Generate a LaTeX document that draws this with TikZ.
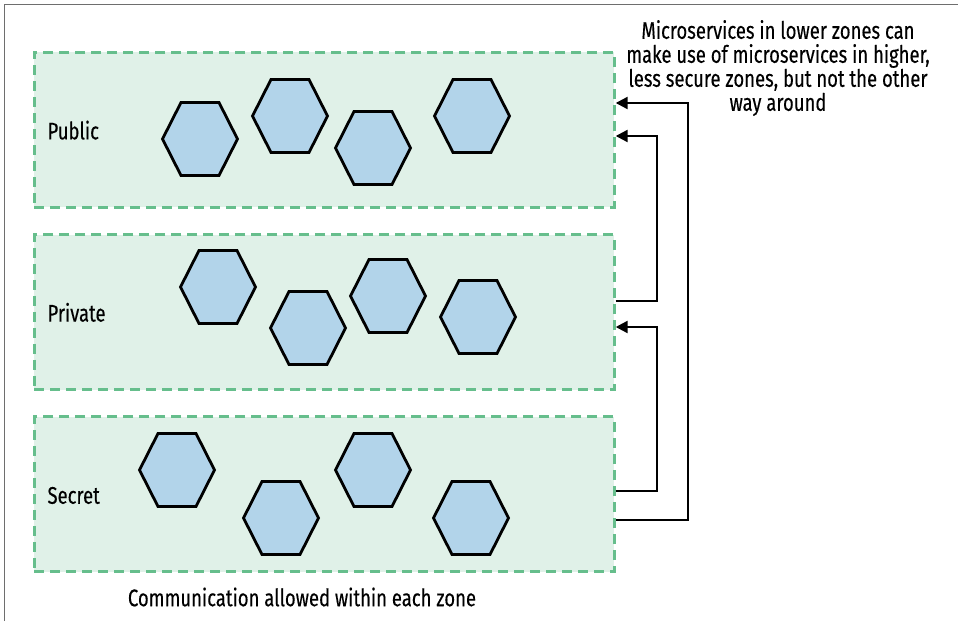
\documentclass[tikz,border=0pt]{standalone}
\usepackage{fontspec}
\setmainfont{Fira Sans}[FakeStretch=0.77,FakeBold=0.3]
\usepackage{xcolor}
\usetikzlibrary{arrows.meta,positioning}
\definecolor{zonefill}{RGB}{224,241,232}
\definecolor{zoneline}{RGB}{102,190,140}
\definecolor{svcfill}{RGB}{178,212,234}
\definecolor{framegray}{RGB}{110,110,110}
\tikzset{
  svc/.pic={\draw[line width=2.8pt,fill=svcfill] (-37.5,0)--(-19,-36.5)--(19,-36.5)--(37.5,0)--(19,36.5)--(-19,36.5)--cycle;}
}

\begin{document}
\begin{tikzpicture}[x=1pt,y=-1pt,node distance=24.5pt,
  every node/.style={font=\fontsize{24}{24}\selectfont,align=center},
  zone/.style={draw=zoneline,fill=zonefill,dash pattern=on 10pt off 6pt,line width=2.7pt,minimum width=580pt,minimum height=155pt,inner sep=0pt},
  link/.style={line width=2.3pt,-{Triangle[length=12pt,width=12pt]}}]
\useasboundingbox (0,0) rectangle (958,621);
\draw[framegray,line width=1.3pt] (4.5,621)--(4.5,4.5)--(958,4.5);

\node[zone,anchor=north west] (public) at (33,51) {};
\node[zone,below=of public] (private) {};
\node[zone,below=of private] (secret) {};
\node[anchor=base west] (publab) at ([xshift=11pt,yshift=-9.5pt]public.west) {Public};
\node[anchor=base west] (privlab) at ([xshift=11pt,yshift=-9.5pt]private.west) {Private};
\node[anchor=base west] (seclab) at ([xshift=11pt,yshift=-9.5pt]secret.west) {Secret};

\pic at (200,139) {svc};
\pic at (290,116) {svc};
\pic at (373,148) {svc};
\pic at (472,116) {svc};

\pic at (218,287) {svc};
\pic at (308,328) {svc};
\pic at (388,296) {svc};
\pic at (478,317) {svc};

\pic at (177,470) {svc};
\pic at (281,518) {svc};
\pic at (373,470) {svc};
\pic at (471,518) {svc};

\draw[link] (private.east |- 0,301) -| (657,136) -- (public.east |- 0,136);
\draw[link] (secret.east |- 0,491) -| (657,327) -- (private.east |- 0,327);
\draw[link] (secret.east |- 0,520) -| (688,103) -- (public.east |- 0,103);

\node (note) at (778,68) {Microservices in lower zones can\\make use of microservices in higher,\\less secure zones, but not the other\\way around};
\node (caption) at (302,597) {Communication allowed within each zone};
\end{tikzpicture}
\end{document}
